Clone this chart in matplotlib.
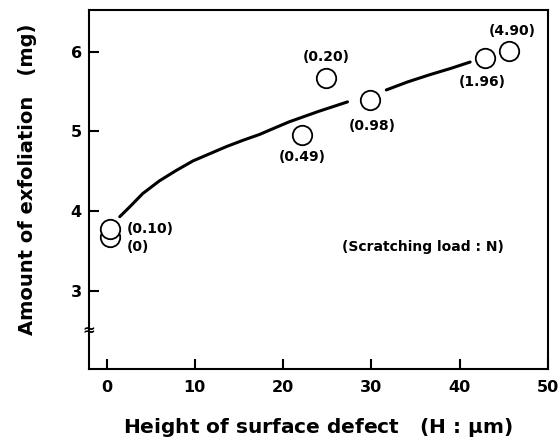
import numpy as np
import matplotlib
matplotlib.use("Agg")
import matplotlib.pyplot as plt

# === DATA =====================================================================
# measured points: height of surface defect (um), amount of exfoliation (mg)
height = [0.4, 0.4, 24.9, 22.2, 29.8, 42.9, 45.6]
amount = [3.67, 3.78, 5.67, 4.96, 5.40, 5.92, 6.01]
load_labels = ["(0)", "(0.10)", "(0.20)", "(0.49)", "(0.98)", "(1.96)", "(4.90)"]
# label offsets in points (dx, dy) relative to each point
label_offsets = [(12, -7), (12, 0), (0, 15), (0, -16.5), (2, -19), (-2, -17), (2, 14)]
label_ha = ["left", "left", "center", "center", "center", "center", "center"]

# trend curve (nan = gap behind the (0.98) circle)
curve_h = [1.5, 2.6, 4.1, 6.0, 7.9, 9.8, 11.7, 13.6, 15.5, 17.3, 19.2, 20.7,
           24.0, 27.3, np.nan, 31.7, 34.1, 36.6, 39.0, 41.2]
curve_m = [3.93, 4.05, 4.22, 4.38, 4.51, 4.63, 4.72, 4.81, 4.89, 4.96, 5.05, 5.12,
           5.25, 5.37, np.nan, 5.52, 5.62, 5.71, 5.79, 5.87]

xticks = [0, 10, 20, 30, 40, 50]
yticks = [3, 4, 5, 6]

# === PLOT =====================================================================
plt.rcParams['font.family'] = ['DejaVu Sans']
plt.rcParams['font.weight'] = 'bold'

fig = plt.figure(figsize=(5.59, 4.44), dpi=100)
ax = fig.add_axes([0.159, 0.169, 0.821, 0.808])

ax.plot(curve_h, curve_m, color='black', lw=2.2, solid_capstyle='round')
ax.plot(height, amount, 'o', ms=14, mfc='white', mec='black', mew=1.3, zorder=3)

for hx, my, lab, off, ha in zip(height, amount, load_labels, label_offsets, label_ha):
    ax.annotate(lab, (hx, my), xytext=off, textcoords='offset points',
                ha=ha, va='center', fontsize=10, fontweight='bold')

ax.text(0.728, 0.34, "(Scratching load : N)", transform=ax.transAxes,
        ha='center', va='center', fontsize=10, fontweight='bold')

# axis break mark on the y axis
ax.text(0.0, 2.5, "≈", transform=ax.get_yaxis_transform(), ha='center', va='center',
        fontsize=11, fontweight='bold')

ax.set_xlim(-2, 50)
ax.set_ylim(2.02, 6.52)
ax.set_xticks(xticks)
ax.set_yticks(yticks)
ax.tick_params(direction='in', length=7, width=1.5, labelsize=11.5)
ax.tick_params(axis='x', pad=8)
ax.tick_params(axis='y', pad=5)
for lbl in ax.get_xticklabels() + ax.get_yticklabels():
    lbl.set_fontweight('bold')
for sp in ax.spines.values():
    sp.set_linewidth(1.5)

ax.set_xlabel("Height of surface defect   (H : $\\mathbf{\\mu}$m)", fontsize=14.5,
              fontweight='bold', labelpad=15)
ax.set_ylabel("Amount of exfoliation   (mg)", fontsize=14, fontweight='bold')
ax.yaxis.set_label_coords(-0.112, 0.53)

fig.savefig("out.png", dpi=100)
